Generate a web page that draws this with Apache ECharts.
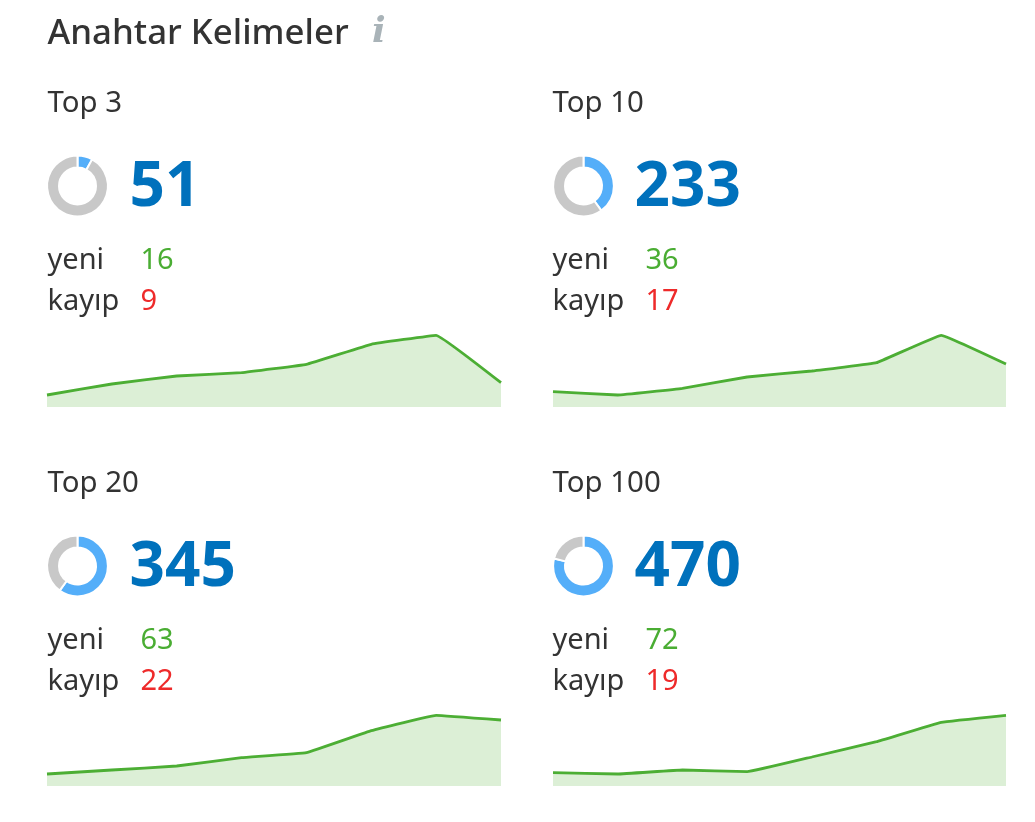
<!DOCTYPE html>
<html><head><meta charset="utf-8">
<style>html,body{margin:0;padding:0;background:#fff}#c{width:1035px;height:822px}</style>
<script src="https://cdn.jsdelivr.net/npm/echarts@6/dist/echarts.min.js"></script>
</head><body><div id="c"></div>
<script>
const heading = "Anahtar Kelimeler";
const names = ["Top 3","Top 10","Top 20","Top 100"];
const totals = [51,233,345,470];
const yeniVals = [16,36,63,72];
const kayipVals = [9,17,22,19];
const yeniLabel = "yeni", kayipLabel = "kayıp";
const donutShares = [8,40,60,79];
const trendTop3 = [12,23,31,34.3,42.7,62.7,71.7,24.3];
const trendTop10 = [15.3,12,18.7,30,36,44.3,71.7,43];
const trendTop20 = [12,16,20,28.3,33.3,55.3,70.7,66];
const trendTop100 = [13.3,12,16,14.3,29,44.3,63.7,70.7];
const trends = [trendTop3,trendTop10,trendTop20,trendTop100];
const days = [1,2,3,4,5,6,7,8];

const FONT = '"Noto Sans", sans-serif';
const X = [47,553], Y = [0,380], W=[454,453], TX=[47.5,552.5];
const grid=[],xAxis=[],yAxis=[],series=[],graphic=[];
const text=(x,y,t,size,color,weight)=>graphic.push({type:'text',x,y,style:{text:String(t),fontFamily:FONT,fontSize:size,fontWeight:weight||400,fill:color,textVerticalAlign:'middle'}});
text(47.5,34,heading,34.8,'#333333',500);
graphic.push({type:'text',x:372,y:33,style:{text:'i',fontFamily:'"DejaVu Serif",serif',fontSize:36,fontStyle:'italic',fontWeight:700,fill:'#a9b3b8',textVerticalAlign:'middle'}});
names.forEach((n,i)=>{
  const x=X[i%2], tx=TX[i%2], dy=Y[i>>1];
  text(tx,103.5+dy,n,29.4,'#333333');
  text(tx+82,188+dy,totals[i],62,'#0071bc',700);
  text(tx,260.5+dy,yeniLabel,29,'#333333');
  text(tx,301.5+dy,kayipLabel,29,'#333333');
  text(tx+93,260.5+dy,yeniVals[i],29,'#4aad33');
  text(tx+93,301.5+dy,kayipVals[i],29,'#ee2a2a');
  series.push({type:'pie',silent:true,animation:false,center:[x+30.5,186+dy],radius:[18.5,30.4],startAngle:90,clockwise:true,
    label:{show:false},labelLine:{show:false},
    itemStyle:{borderColor:'#fff',borderWidth:2},
    data:[{value:donutShares[i],itemStyle:{color:'#54aef9'}},{value:100-donutShares[i],itemStyle:{color:'#c8c8c8'}}]});
  grid.push({left:x,width:W[i%2],top:335+dy-(i>>1),height:72});
  xAxis.push({type:'category',gridIndex:i,data:days,boundaryGap:false,show:false});
  yAxis.push({type:'value',gridIndex:i,min:0,max:72,show:false});
  series.push({type:'line',xAxisIndex:i,yAxisIndex:i,data:trends[i],showSymbol:false,silent:true,animation:false,clip:true,smooth:0.06,
    lineStyle:{color:'#4cae34',width:2.8},areaStyle:{color:'#dcefd6',opacity:1}});
});
const chart=echarts.init(document.getElementById('c'),null,{renderer:'canvas'});
chart.setOption({animation:false,backgroundColor:'#fff',grid,xAxis,yAxis,series,graphic});
</script></body></html>
